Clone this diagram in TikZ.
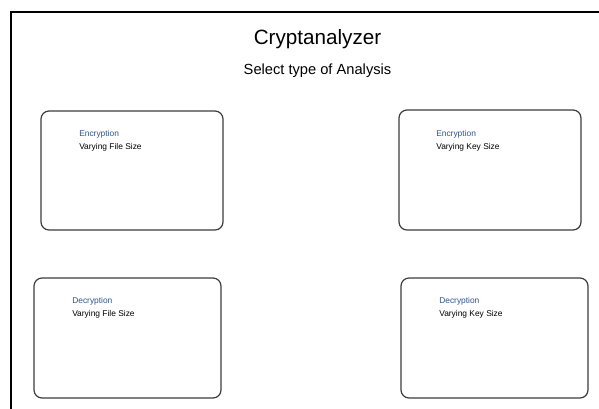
\documentclass[tikz,border=0pt]{standalone}
\usepackage{fontspec}
\setmainfont{Liberation Sans}
\definecolor{headblue}{RGB}{45,85,145}
\definecolor{boxedge}{RGB}{60,60,60}
\tikzset{
  card/.style={draw=boxedge, line width=0.9pt, rounded corners=6pt, fill=white, inner sep=0pt},
  head/.style={anchor=base west, inner sep=0pt, text=headblue, font=\fontsize{6.3pt}{7pt}\selectfont},
  sub/.style={anchor=base west, inner sep=0pt, text=black, font=\fontsize{6.3pt}{7pt}\selectfont},
}
\begin{document}
\begin{tikzpicture}[x=0.75pt, y=-0.75pt]
\useasboundingbox (0,0) rectangle (599,408);
\fill[white] (0,0) rectangle (599,408);
\begin{scope}
\clip (0,0) rectangle (599,408);
\draw[line width=1.6pt] (11,12) rectangle (640,440);
\end{scope}
\node[inner sep=0pt, anchor=base, font=\fontsize{15.5pt}{18pt}\selectfont] (title) at (317.5,44) {Cryptanalyzer};
\node[inner sep=0pt, anchor=base, font=\fontsize{11pt}{13pt}\selectfont] (subtitle) at (317.5,74) {Select type of Analysis};
% boxes
\node[card, minimum width={182*0.75pt}, minimum height={119*0.75pt}] (b1) at (132,170.5) {};
\node[card, minimum width={182*0.75pt}, minimum height={120*0.75pt}] (b2) at (490,170) {};
\node[card, minimum width={187*0.75pt}, minimum height={120*0.75pt}] (b3) at (127.5,338) {};
\node[card, minimum width={187*0.75pt}, minimum height={120*0.75pt}] (b4) at (494.5,338) {};
% texts
\node[head] (b1h) at (79,136) {Encryption};
\node[sub]  (b1s) at (79,149.5) {Varying File Size};
\node[head] (b2h) at (436,136) {Encryption};
\node[sub]  (b2s) at (436,149.5) {Varying Key Size};
\node[head] (b3h) at (72,303) {Decryption};
\node[sub]  (b3s) at (72,316.5) {Varying File Size};
\node[head] (b4h) at (439,303) {Decryption};
\node[sub]  (b4s) at (439,316.5) {Varying Key Size};
\end{tikzpicture}
\end{document}
